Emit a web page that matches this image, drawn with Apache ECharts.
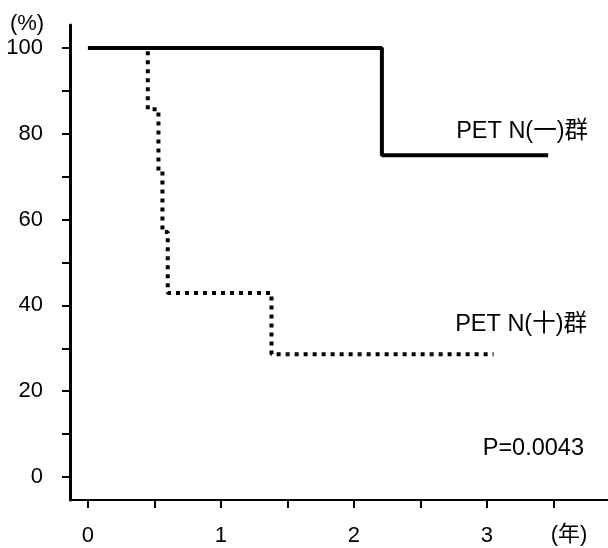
<!DOCTYPE html>
<html>
<head>
<meta charset="utf-8">
<script src="https://cdn.jsdelivr.net/npm/echarts@6/dist/echarts.min.js"></script>
<style>
  html, body { margin: 0; padding: 0; background: #fff; }
  #chart { width: 608px; height: 548px; }
</style>
</head>
<body>
<div id="chart"></div>
<script>
  // 軸の目盛
  const xTicks = [0, 0.5, 1, 1.5, 2, 2.5, 3, 3.5];
  const xLabels = [0, 1, 2, 3];
  const yTicks = [0, 10, 20, 30, 40, 50, 60, 70, 80, 90, 100];
  const yLabels = [0, 20, 40, 60, 80, 100];

  // PET N(-)群 生存曲線
  const negTimes = [0, 2.21, 3.46];
  const negSurv = [100, 75, 75];

  // PET N(+)群 生存曲線
  const posTimes = [0, 0.45, 0.53, 0.56, 0.6, 1.38, 3.05];
  const posSurv = [100, 85.7, 71.4, 57.1, 42.9, 28.6, 28.6];

  const font = "'Liberation Sans', 'Noto Sans CJK JP', sans-serif";

  function pairs(xs, ys) {
    return xs.map((x, i) => [x, ys[i]]);
  }

  let chart = echarts.init(document.getElementById('chart'));
  let option = {
    backgroundColor: '#fff',
    animation: false,
    grid: {
      left: 70,
      right: 0,
      top: 25,
      bottom: 48
    },
    xAxis: {
      type: 'value',
      min: -0.135,
      max: 3.91,
      splitLine: { show: false },
      axisLine: { onZero: false, lineStyle: { color: '#000', width: 2 } },
      axisTick: {
        customValues: xTicks,
        length: 8,
        lineStyle: { color: '#000', width: 2 }
      },
      axisLabel: {
        customValues: xLabels,
        margin: 25,
        color: '#000',
        fontSize: 22,
        fontFamily: font
      }
    },
    yAxis: {
      type: 'value',
      min: -5.36,
      max: 105.36,
      splitLine: { show: false },
      axisLine: { show: true, onZero: false, lineStyle: { color: '#000', width: 3 } },
      axisTick: {
        show: true,
        customValues: yTicks,
        length: 8,
        lineStyle: { color: '#000', width: 2 }
      },
      axisLabel: {
        customValues: yLabels,
        margin: 27,
        color: '#000',
        fontSize: 22,
        fontFamily: font
      }
    },
    series: [
      {
        name: 'PET N(+)',
        type: 'line',
        step: 'end',
        symbol: 'none',
        z: 2,
        lineStyle: { color: '#000', width: 4, type: [4, 5], cap: 'butt' },
        data: pairs(posTimes, posSurv)
      },
      {
        name: 'PET N(-)',
        type: 'line',
        step: 'end',
        symbol: 'none',
        z: 3,
        lineStyle: { color: '#000', width: 4 },
        data: pairs(negTimes, negSurv)
      }
    ],
    graphic: [
      { type: 'text', x: 27, y: 24, style: { text: '(%)', font: '22px ' + font, fill: '#000', align: 'center', verticalAlign: 'middle' } },
      { type: 'text', x: 588, y: 132, style: { text: 'PET N(一)群', font: '23.5px ' + font, fill: '#000', align: 'right', verticalAlign: 'middle' } },
      { type: 'text', x: 587, y: 325, style: { text: 'PET N(十)群', font: '23.5px ' + font, fill: '#000', align: 'right', verticalAlign: 'middle' } },
      { type: 'text', x: 584, y: 449, style: { text: 'P=0.0043', font: '23.5px ' + font, fill: '#000', align: 'right', verticalAlign: 'middle' } },
      { type: 'text', x: 569, y: 535, style: { text: '(年)', font: '22px ' + font, fill: '#000', align: 'center', verticalAlign: 'middle' } }
    ]
  };
  chart.setOption(option);
</script>
</body>
</html>
